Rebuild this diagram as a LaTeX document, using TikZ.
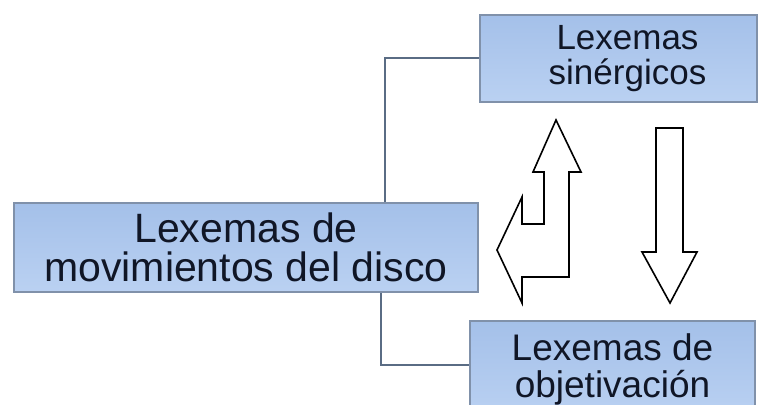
\documentclass[tikz,border=0pt]{standalone}
\usepackage{fontspec}
\setmainfont{Liberation Sans}
\usetikzlibrary{calc}

\definecolor{boxtop}{RGB}{164,192,233}
\definecolor{boxbot}{RGB}{186,209,242}
\definecolor{boxline}{RGB}{128,145,170}
\definecolor{linkline}{RGB}{90,108,132}
\definecolor{ink}{RGB}{16,22,38}

\begin{document}
\begin{tikzpicture}[x=0.5pt,y=-0.5pt,
  box/.style={draw=boxline,line width=0.8pt,top color=boxtop,bottom color=boxbot,
    text=ink,align=center,inner sep=0pt},
  link/.style={draw=linkline,line width=1pt},
  hollow/.style={draw=black,fill=white,line width=0.8pt,line join=miter}]
\useasboundingbox (0,0) rectangle (759,405);
%%%%

\node[box,minimum width=232pt,minimum height=44.5pt,
  font=\fontsize{20.5}{19.5}\selectfont] (disco) at (246,247.5) {Lexemas de\\movimientos del disco};
\node[box,minimum width=138.5pt,minimum height=43.5pt,
  font=\fontsize{17.5}{17.5}\selectfont] (sin) at (618.5,58.5)
  {\hspace*{9pt}Lexemas\\\hspace*{9pt}sin\'ergicos};
\node[box,minimum width=142.5pt,minimum height=48pt,
  font=\fontsize{18.5}{18.5}\selectfont] (obj) at (612.5,369) {Lexemas de\\objetivaci\'on};
%
\coordinate (up) at (385,58);
\coordinate (dn) at (381,365);
\draw[link] (disco.north -| up) |- (sin.west);
\draw[link] (disco.south -| dn) |- (dn -| obj.west);
%Hollow arrows
\draw[hollow] (556,120) -- (581,172) -- (569,172) -- (569,277) -- (522,277) -- (522,303)
  -- (497,250) -- (522,197) -- (522,224) -- (544,224) -- (544,172) -- (533,172) -- cycle;
\draw[hollow] (656,128) -- (683,128) -- (683,252) -- (697,252) -- (670,303) -- (642,252)
  -- (656,252) -- cycle;
\end{tikzpicture}
\end{document}
